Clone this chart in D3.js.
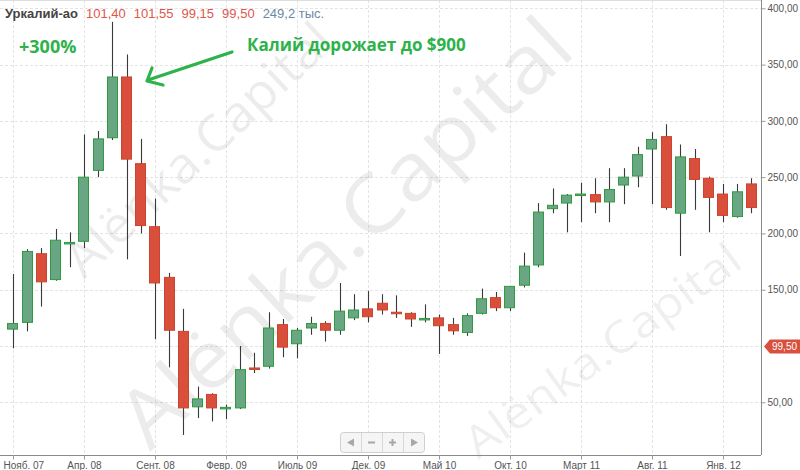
<!DOCTYPE html>
<html><head><meta charset="utf-8">
<script src="https://cdn.jsdelivr.net/npm/d3@7/dist/d3.min.js"></script>
<style>body{margin:0;background:#fff}svg{display:block;font-family:"Liberation Sans",Arial,sans-serif}</style>
</head><body><svg id="c" width="800" height="470"></svg>
<script>
const months = ["2007-11","2007-12","2008-01","2008-02","2008-03","2008-04","2008-05","2008-06","2008-07","2008-08","2008-09","2008-10","2008-11","2008-12",
"2009-01","2009-02","2009-03","2009-04","2009-05","2009-06","2009-07","2009-08","2009-09","2009-10","2009-11","2009-12",
"2010-01","2010-02","2010-03","2010-04","2010-05","2010-06","2010-07","2010-08","2010-09","2010-10","2010-11","2010-12",
"2011-01","2011-02","2011-03","2011-04","2011-05","2011-06","2011-07","2011-08","2011-09","2011-10","2011-11","2011-12",
"2012-01","2012-02","2012-03"];
const open  = [115,121,182,159,191,193,256,285,339,262,206,161,113,46,57,44.5,45,80.5,82,119,102,116,120,114,125,133,138,130,129,123.5,125,119,112,129,143,134,154,172,222,227,234,234.5,228,243,251,275,286,218,266.5,249,235,215,244];
const high  = [164,186,187,204,201,288,291,388,359,284,231,165,133,64,58,48,100,94,130,124,116,126,122,156,146,149,146,145,130,137,128,125,129,151,148,153,183,227,240,235,245,249,258,258,277,290,297,279,275,250.5,244,244,249];
const low   = [98,113,135,158,170,187,250,283,177,200,106,81,21,36,33,35,44,76,80,90,89,110,104,110,123,121,128,125,117,121,93,110,109,128,131,131,152,170,218,201,210,218,210,226,241,226,221,180,221,201,210,214,218];
const close = [120,184,157,194,192,250,284,339,266,207,156,114,45,53,45,45.5,79,79.5,116,99,114,120,114,131,132,126,132,129,124,124.5,118,113.5,127,142,134,153,171,219,225,234,235,228,239,250,270,283.5,223,268,248,232,216,237,223];
const tickMonths = ["2007-11","2008-04","2008-09","2009-02","2009-07","2009-12","2010-05","2010-10","2011-03","2011-08","2012-01"];
const tickLabels = ["Нояб. 07","Апр. 08","Сент. 08","Февр. 09","Июль 09","Дек. 09","Май 10","Окт. 10","Март 11","Авг. 11","Янв. 12"];
const yTicks = [50,100,150,200,250,300,350,400];
const header = {name:"Уркалий-ао", values:["101,40","101,55","99,15","99,50"], volume:"249,2 тыс."};
const lastPrice = 99.50, lastLabel = "99,50";

const svg = d3.select("#c");
const plotR = 761, plotB = 455;
const x = d3.scaleBand().domain(months).range([5.9, 5.9 + 14.2*months.length]).paddingInner(0.22).paddingOuter(0.11);
const xc = m => x(m) + x.bandwidth()/2;
const y = d3.scaleLinear().domain([50,400]).range([402.3, 8.3]);

// grid
const g = svg.append("g");
g.selectAll(".hg").data(yTicks).join("line").attr("x1",0).attr("x2",plotR).attr("y1",d=>Math.round(y(d))+0.5).attr("y2",d=>Math.round(y(d))+0.5)
  .attr("stroke","#e4e4e4").attr("stroke-dasharray","3,2");
g.selectAll(".vg").data(tickMonths).join("line").attr("y1",0).attr("y2",plotB).attr("x1",d=>Math.round(xc(d))+0.5).attr("x2",d=>Math.round(xc(d))+0.5)
  .attr("stroke","#e4e4e4").attr("stroke-dasharray","3,2");
svg.append("line").attr("x1",0).attr("x2",plotR).attr("y1",0.5).attr("y2",0.5).attr("stroke","#ddd");

// watermarks
const wm = [{x:150,y:452,a:-43,len:585,fs:80},{x:84,y:280,a:-43,len:345,fs:50},{x:478,y:460,a:-36,len:330,fs:44}];
svg.append("g").selectAll("text").data(wm).join("text")
  .attr("transform",d=>`translate(${d.x},${d.y}) rotate(${d.a})`)
  .attr("font-family","'Open Sans',sans-serif").attr("font-size",d=>d.fs)
  .attr("textLength",d=>d.len).attr("lengthAdjust","spacingAndGlyphs")
  .attr("fill","#000").attr("fill-opacity",0.075).text("Alënka.Capital");

// candles
const data = months.map((m,i)=>({m,o:open[i],h:high[i],l:low[i],c:close[i]}));
const cg = svg.append("g");
cg.selectAll(".w").data(data).join("line")
  .attr("x1",d=>Math.round(xc(d.m))+0.5).attr("x2",d=>Math.round(xc(d.m))+0.5)
  .attr("y1",d=>y(d.h)).attr("y2",d=>y(d.l)).attr("stroke","#3a3a3a").attr("stroke-width",1.1);
cg.selectAll(".b").data(data).join("rect")
  .attr("x",d=>Math.round(x(d.m))+0.5).attr("width",Math.round(x.bandwidth())-1)
  .attr("y",d=>y(Math.max(d.o,d.c))).attr("height",d=>Math.max(1.5,Math.abs(y(d.o)-y(d.c))))
  .attr("fill",d=>d.c>=d.o?"#69a684":"#da4f3c")
  .attr("stroke",d=>d.c>=d.o?"#2f9a3e":"#c9452f").attr("stroke-width",1);

// axes
svg.append("line").attr("x1",0).attr("x2",plotR).attr("y1",plotB+0.5).attr("y2",plotB+0.5).attr("stroke","#8a8a8a");
svg.append("line").attr("x1",plotR+0.5).attr("x2",plotR+0.5).attr("y1",0).attr("y2",plotB).attr("stroke","#8a8a8a");
const ya = svg.append("g").attr("transform",`translate(${plotR+0.5},0)`)
  .call(d3.axisRight(y).tickValues(yTicks.filter(v=>v!==100)).tickSize(4).tickPadding(2).tickFormat(d=>d3.format(".2f")(d).replace(".",",")));
ya.select(".domain").remove();
ya.selectAll("line").attr("stroke","#999");
ya.selectAll("text").attr("fill","#555").attr("font-size",10).attr("font-family","'Liberation Sans',Arial,sans-serif");
const xa = svg.append("g").attr("transform",`translate(0,${plotB+0.5})`)
  .call(d3.axisBottom(d3.scalePoint().domain(tickMonths).range([xc(tickMonths[0]),xc(tickMonths[tickMonths.length-1])]))
    .tickSize(4).tickPadding(2).tickFormat((d,i)=>tickLabels[i]));
xa.select(".domain").remove();
xa.selectAll("line").attr("stroke","#999");
xa.selectAll("text").attr("fill","#555").attr("font-size",10).attr("font-family","'Liberation Sans',Arial,sans-serif");
xa.selectAll("text").filter((d,i)=>i===0).attr("text-anchor","start").attr("x",3-xc(tickMonths[0]));

// last price label
const ly = y(lastPrice);
svg.append("path").attr("d",`M764,${ly} L770,${ly-7} L800,${ly-7} L800,${ly+7} L770,${ly+7} Z`).attr("fill","#d9503e");
svg.append("text").attr("x",772).attr("y",ly+3.5).attr("fill","#fff").attr("font-size",10).text(lastLabel);

// header
const h = svg.append("text").attr("x",5).attr("y",18).attr("font-size",13);
h.append("tspan").attr("font-weight","bold").attr("fill","#444").text(header.name);
header.values.forEach(v=>h.append("tspan").attr("dx",8).attr("fill","#e0564b").text(v));
h.append("tspan").attr("dx",8).attr("fill","#6d87a6").text(header.volume);

// annotations
svg.append("text").attr("x",19).attr("y",53).attr("font-size",18).attr("font-weight","bold").attr("fill","#2eb24b").attr("font-family","'Open Sans',sans-serif").text("+300%");
svg.append("text").attr("x",247).attr("y",51).attr("font-size",17).attr("font-weight","bold").attr("fill","#2eb24b").attr("font-family","'Open Sans',sans-serif").text("Калий дорожает до $900");
svg.append("path").attr("d","M232,52 L148,80 M152,68 L147,81 L163,85").attr("fill","none").attr("stroke","#2eb24b").attr("stroke-width",3.2).attr("stroke-linecap","round").attr("stroke-linejoin","round");

// navigator buttons
const nav = svg.append("g");
nav.append("rect").attr("x",340.5).attr("y",432.5).attr("width",84).attr("height",20).attr("rx",3).attr("fill","#f5f5f5").attr("stroke","#cfcfcf");
[361,382,403].forEach(sx=>nav.append("line").attr("x1",sx+0.5).attr("x2",sx+0.5).attr("y1",433).attr("y2",452).attr("stroke","#d8d8d8"));
nav.append("path").attr("d","M347,442.5 L354,438.5 L354,446.5 Z").attr("fill","#a8a8a8");
nav.append("rect").attr("x",368).attr("y",441.5).attr("width",7).attr("height",2).attr("fill","#a8a8a8");
nav.append("path").attr("d","M389,441.5h7v2h-7z M391.5,439h2v7h-2z").attr("fill","#a8a8a8");
nav.append("path").attr("d","M418,442.5 L411,438.5 L411,446.5 Z").attr("fill","#a8a8a8");
</script></body></html>
